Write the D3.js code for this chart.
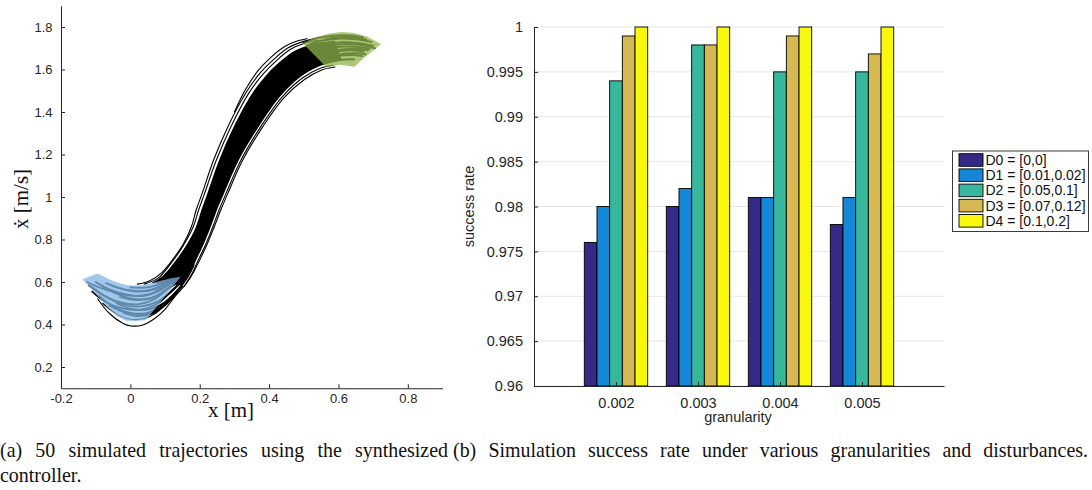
<!DOCTYPE html>
<html>
<head>
<meta charset="utf-8">
<script src="https://cdn.jsdelivr.net/npm/d3@7"></script>
<style>
  body { margin: 0; background: #fff; }
  svg { display: block; }
  .axis text { font-family: "Liberation Sans", Arial, Helvetica, sans-serif; fill: #262626; }
  .axis path, .axis line { stroke: #262626; }
  .serif { font-family: "Liberation Serif", "Times New Roman", "DejaVu Serif", serif; fill: #111; }
  .sans { font-family: "Liberation Sans", Arial, Helvetica, sans-serif; fill: #262626; }
</style>
</head>
<body>
<div id="figure"></div>
<script>
// ---------- (a) trajectories, values as [x, xdot] ----------
const posTicks = [-0.2, 0, 0.2, 0.4, 0.6, 0.8];
const posTickLabels = ["-0.2", "0", "0.2", "0.4", "0.6", "0.8"];
const velTicks = [0.2, 0.4, 0.6, 0.8, 1, 1.2, 1.4, 1.6, 1.8];
const velTickLabels = ["0.2", "0.4", "0.6", "0.8", "1", "1.2", "1.4", "1.6", "1.8"];

// initial set (blue) and goal set (green)
const startRegion = [
  [-0.094, 0.640], [-0.06, 0.612], [-0.03, 0.593], [0.0, 0.583], [0.03, 0.583],
  [0.06, 0.594], [0.09, 0.607], [0.115, 0.617], [0.145, 0.625],
  [0.045, 0.421], [0.015, 0.416], [-0.012, 0.418], [-0.04, 0.44], [-0.07, 0.49],
  [-0.1, 0.545], [-0.125, 0.59], [-0.139, 0.613]
];
const goalRegion = [
  [0.497, 1.723], [0.53, 1.75], [0.574, 1.77], [0.61, 1.776], [0.645, 1.772],
  [0.68, 1.757], [0.723, 1.72], [0.70, 1.69], [0.67, 1.65], [0.646, 1.613],
  [0.605, 1.622], [0.564, 1.613]
];

// dense core of the 50 trajectories
const bundleTop = [
  [0.06, 0.595], [0.095, 0.632], [0.13, 0.70], [0.162, 0.775], [0.188, 0.855],
  [0.205, 0.94], [0.222, 1.017], [0.256, 1.174], [0.298, 1.331], [0.35, 1.485],
  [0.39, 1.57], [0.43, 1.635], [0.47, 1.685], [0.51, 1.712], [0.55, 1.728], [0.59, 1.735]
];
const bundleBottom = [
  [0.15, 0.585], [0.172, 0.64], [0.19, 0.704], [0.212, 0.78], [0.232, 0.86],
  [0.25, 0.94], [0.27, 1.017], [0.313, 1.174], [0.37, 1.331], [0.43, 1.47],
  [0.49, 1.565], [0.54, 1.612], [0.58, 1.632], [0.61, 1.642]
];

// individual trajectories running along the edges of the bundle
const edgeLines = [
  [[0.04, 0.59], [0.08, 0.618], [0.118, 0.69], [0.152, 0.77], [0.18, 0.855], [0.197, 0.94],
   [0.214, 1.017], [0.248, 1.174], [0.29, 1.331], [0.342, 1.49], [0.382, 1.577], [0.422, 1.643],
   [0.462, 1.695], [0.50, 1.722], [0.54, 1.738]],
  [[0.02, 0.59], [0.055, 0.605], [0.09, 0.643], [0.122, 0.705], [0.153, 0.78], [0.176, 0.86],
   [0.19, 0.94], [0.207, 1.017], [0.24, 1.174], [0.283, 1.337], [0.335, 1.495], [0.375, 1.585],
   [0.415, 1.65], [0.455, 1.702], [0.495, 1.73], [0.525, 1.742]],
  [[0.30, 1.40], [0.33, 1.50], [0.367, 1.592], [0.405, 1.657], [0.445, 1.708], [0.485, 1.736], [0.51, 1.745]],
  [[0.155, 0.58], [0.178, 0.64], [0.196, 0.704], [0.218, 0.78], [0.238, 0.86], [0.256, 0.94],
   [0.276, 1.017], [0.319, 1.174], [0.376, 1.331], [0.436, 1.468], [0.496, 1.56], [0.546, 1.605], [0.585, 1.62]],
  [[-0.094, 0.52], [-0.061, 0.453], [-0.022, 0.406], [0.002, 0.393], [0.036, 0.398],
   [0.064, 0.421], [0.098, 0.468], [0.13, 0.535], [0.16, 0.59], [0.182, 0.645],
   [0.2, 0.704], [0.222, 0.78], [0.242, 0.86], [0.261, 0.94], [0.281, 1.017],
   [0.324, 1.174], [0.382, 1.331], [0.442, 1.465], [0.502, 1.553], [0.552, 1.598], [0.59, 1.612]],
  [[-0.08, 0.50], [-0.04, 0.45], [0.0, 0.425], [0.04, 0.428], [0.075, 0.455],
   [0.11, 0.51], [0.14, 0.565], [0.165, 0.62], [0.184, 0.68]]
];

// trajectories leaving the initial set
const startStrands = [
  [[-0.12, 0.585], [-0.08, 0.54], [-0.03, 0.505], [0.02, 0.495], [0.07, 0.52], [0.11, 0.57], [0.14, 0.6]],
  [[-0.10, 0.60], [-0.06, 0.565], [-0.01, 0.54], [0.04, 0.535], [0.085, 0.56], [0.12, 0.6]],
  [[-0.11, 0.555], [-0.07, 0.505], [-0.02, 0.475], [0.03, 0.47], [0.08, 0.50], [0.12, 0.56], [0.145, 0.6]],
  [[-0.05, 0.58], [0.0, 0.56], [0.05, 0.56], [0.09, 0.585], [0.12, 0.615]],
  [[-0.09, 0.535], [-0.05, 0.485], [0.0, 0.455], [0.05, 0.455], [0.09, 0.49], [0.13, 0.55], [0.15, 0.59]],
  [[-0.07, 0.595], [-0.03, 0.57], [0.02, 0.555], [0.07, 0.565], [0.11, 0.6]],
  [[-0.06, 0.49], [-0.02, 0.46], [0.03, 0.448], [0.08, 0.47], [0.12, 0.53], [0.15, 0.58]],
  [[-0.03, 0.53], [0.02, 0.515], [0.07, 0.53], [0.115, 0.58]],
  [[-0.125, 0.60], [-0.09, 0.575], [-0.04, 0.55], [0.01, 0.535], [0.06, 0.545], [0.10, 0.58], [0.13, 0.61]],
  [[-0.08, 0.58], [-0.04, 0.545], [0.01, 0.52], [0.06, 0.525], [0.10, 0.56], [0.135, 0.6]],
  [[-0.04, 0.50], [0.0, 0.475], [0.05, 0.47], [0.095, 0.5], [0.135, 0.56]],
  [[-0.02, 0.455], [0.02, 0.44], [0.06, 0.45], [0.1, 0.49], [0.14, 0.56]],
  [[0.0, 0.575], [0.05, 0.575], [0.1, 0.6], [0.13, 0.625]],
  [[-0.11, 0.575], [-0.07, 0.53], [-0.02, 0.495], [0.03, 0.485], [0.075, 0.505], [0.115, 0.55], [0.14, 0.59]]
];

// trajectories ending in the goal set
const goalStrands = [
  [[0.50, 1.725], [0.54, 1.748], [0.58, 1.758], [0.63, 1.76], [0.67, 1.752]],
  [[0.51, 1.712], [0.55, 1.735], [0.6, 1.745], [0.65, 1.742], [0.695, 1.73]],
  [[0.52, 1.695], [0.56, 1.718], [0.61, 1.728], [0.66, 1.724], [0.70, 1.712]],
  [[0.53, 1.678], [0.57, 1.70], [0.62, 1.708], [0.67, 1.704], [0.69, 1.698]],
  [[0.54, 1.66], [0.58, 1.68], [0.63, 1.69], [0.672, 1.685]],
  [[0.55, 1.645], [0.59, 1.662], [0.64, 1.668], [0.668, 1.664]],
  [[0.56, 1.632], [0.60, 1.645], [0.645, 1.648]],
  [[0.56, 1.74], [0.6, 1.752], [0.64, 1.752], [0.68, 1.74]],
  [[0.58, 1.715], [0.63, 1.72], [0.68, 1.712], [0.705, 1.70]],
  [[0.58, 1.66], [0.62, 1.675], [0.66, 1.676], [0.678, 1.672]],
  [[0.59, 1.69], [0.64, 1.698], [0.685, 1.692]]
];

// ---------- (b) success rate ----------
const granularity = [0.002, 0.003, 0.004, 0.005];
const granLabels = ["0.002", "0.003", "0.004", "0.005"];
const disturbances = ["D0 = [0,0]", "D1 = [0.01,0.02]", "D2 = [0.05,0.1]", "D3 = [0.07,0.12]", "D4 = [0.1,0.2]"];
const distColors = ["#352a87", "#1587d7", "#37b89d", "#d7b954", "#f8f80f"];
const rateD0 = [0.976, 0.980, 0.981, 0.978];
const rateD1 = [0.980, 0.982, 0.981, 0.981];
const rateD2 = [0.994, 0.998, 0.995, 0.995];
const rateD3 = [0.999, 0.998, 0.999, 0.997];
const rateD4 = [1.000, 1.000, 1.000, 1.000];
const rateTicks = [0.96, 0.965, 0.97, 0.975, 0.98, 0.985, 0.99, 0.995, 1];
const rateTickLabels = ["0.96", "0.965", "0.97", "0.975", "0.98", "0.985", "0.99", "0.995", "1"];

const WIDTH = 1092, HEIGHT = 490,
  CAPTION_SQUEEZE = 0.95;

var svg = d3.select("#figure").append("svg")
  .attr("width", WIDTH)
  .attr("height", HEIGHT);

// ===== left panel =====
var xPos = d3.scaleLinear().domain([-0.2, 0.9]).range([61, 442.5]);
var yVel = d3.scaleLinear().domain([0.1, 1.9]).range([388.25, 5.75]);

var traj = d3.line()
  .x(function(d) { return xPos(d[0]); })
  .y(function(d) { return yVel(d[1]); })
  .curve(d3.curveCatmullRom.alpha(0.5));

var region = d3.line()
  .x(function(d) { return xPos(d[0]); })
  .y(function(d) { return yVel(d[1]); })
  .curve(d3.curveLinearClosed);

var left = svg.append("g").attr("id", "trajectories");

// core of the bundle as a filled band
var bandPath = traj(bundleTop) + "L" + traj(bundleBottom.slice().reverse()).slice(1) + "Z";
left.append("path").attr("d", bandPath).attr("fill", "#000");

function drawLines(list, width) {
  list.forEach(function(t) {
    left.append("path")
      .attr("d", traj(t))
      .attr("fill", "none")
      .attr("stroke", "#000")
      .attr("stroke-width", width)
      .attr("stroke-linecap", "round");
  });
}
drawLines(edgeLines, 1.1);
drawLines(startStrands, 1.8);
drawLines(goalStrands, 2);

left.append("path").attr("d", region(startRegion))
  .attr("fill", "#80b6e4").attr("fill-opacity", 0.75);
left.append("path").attr("d", region(goalRegion))
  .attr("fill", "#8eb64b").attr("fill-opacity", 0.75);

svg.append("g").attr("class", "axis")
  .attr("transform", "translate(0," + yVel(0.1) + ")")
  .call(d3.axisBottom(xPos).tickValues(posTicks)
    .tickFormat(function(d, i) { return posTickLabels[i]; })
    .tickSizeInner(-4).tickSizeOuter(0).tickPadding(6));
svg.append("g").attr("class", "axis")
  .attr("transform", "translate(" + xPos(-0.2) + ",0)")
  .call(d3.axisLeft(yVel).tickValues(velTicks)
    .tickFormat(function(d, i) { return velTickLabels[i]; })
    .tickSizeInner(-4).tickSizeOuter(0).tickPadding(8.5));
svg.selectAll(".axis text").style("font-size", "13px");

svg.append("text").attr("class", "serif")
  .attr("x", 231).attr("y", 417)
  .attr("text-anchor", "middle")
  .style("font-size", "21px")
  .text("x [m]");
svg.append("text").attr("class", "serif")
  .attr("transform", "translate(28,199) rotate(-90)")
  .attr("text-anchor", "middle")
  .style("font-size", "21px")
  .text("ẋ [m/s]");

// ===== right panel =====
var xGran = d3.scaleLinear().domain([0.001, 0.006]).range([534, 944]);
var yRate = d3.scaleLinear().domain([0.96, 1]).range([386, 27]);
var inner = d3.scaleBand().domain(disturbances).range([-31.7, 31.7]);
var rates = [rateD0, rateD1, rateD2, rateD3, rateD4];

var right = svg.append("g").attr("id", "bars");

right.selectAll(".grid")
  .data(rateTicks)
  .enter()
  .append("line")
  .attr("class", "grid")
  .attr("x1", xGran(0.001)).attr("x2", xGran(0.006))
  .attr("y1", function(d) { return yRate(d); })
  .attr("y2", function(d) { return yRate(d); })
  .attr("stroke", "#e6e6e6").attr("stroke-width", 1);

disturbances.forEach(function(name, s) {
  right.selectAll(".bar-" + s)
    .data(rates[s])
    .enter()
    .append("rect")
    .attr("class", "bar-" + s)
    .attr("x", function(d, i) { return xGran(granularity[i]) + inner(name); })
    .attr("width", inner.bandwidth())
    .attr("y", function(d) { return yRate(d); })
    .attr("height", function(d) { return yRate(0.96) - yRate(d); })
    .attr("fill", distColors[s])
    .attr("stroke", "#000")
    .attr("stroke-width", 0.9);
});

svg.append("g").attr("class", "axis rate")
  .attr("transform", "translate(0," + yRate(0.96) + ")")
  .call(d3.axisBottom(xGran).tickValues(granularity)
    .tickFormat(function(d, i) { return granLabels[i]; })
    .tickSizeInner(-4).tickSizeOuter(0).tickPadding(12));
svg.append("g").attr("class", "axis rate")
  .attr("transform", "translate(" + xGran(0.001) + ",0)")
  .call(d3.axisLeft(yRate).tickValues(rateTicks)
    .tickFormat(function(d, i) { return rateTickLabels[i]; })
    .tickSizeInner(-4).tickSizeOuter(0).tickPadding(11));
svg.selectAll(".rate text").style("font-size", "14.5px");

svg.append("text").attr("class", "sans")
  .attr("x", 738).attr("y", 422)
  .attr("text-anchor", "middle")
  .style("font-size", "14.5px")
  .text("granularity");
svg.append("text").attr("class", "sans")
  .attr("transform", "translate(474,206.5) rotate(-90)")
  .attr("text-anchor", "middle")
  .style("font-size", "14.5px")
  .text("success rate");

// legend
var legend = svg.append("g").attr("id", "legend");
legend.append("rect")
  .attr("x", 952.5).attr("y", 151).attr("width", 136).attr("height", 80.5)
  .attr("fill", "#fff").attr("stroke", "#262626").attr("stroke-width", 0.9);
var item = legend.selectAll(".item")
  .data(disturbances)
  .enter()
  .append("g")
  .attr("class", "item")
  .attr("transform", function(d, i) { return "translate(0," + (160 + i * 15.2) + ")"; });
item.append("rect")
  .attr("x", 959).attr("y", -6.3).attr("width", 24).attr("height", 12.6)
  .attr("fill", function(d, i) { return distColors[i]; })
  .attr("stroke", "#000").attr("stroke-width", 0.9);
item.append("text").attr("class", "sans")
  .attr("x", 985.5).attr("dy", "0.36em")
  .style("font-size", "14px")
  .style("fill", "#111")
  .text(function(d) { return d; });

// captions: justified by widening only the word gaps
function caption(x, y, width, str) {
  var t = svg.append("text").attr("class", "serif")
    .attr("transform", "scale(" + CAPTION_SQUEEZE + ",1)")
    .attr("x", x / CAPTION_SQUEEZE).attr("y", y)
    .style("font-size", "21px")
    .text(str);
  if (width) {
    var natural = t.node().getComputedTextLength();
    var gaps = str.split(" ").length - 1;
    var extra = (width / CAPTION_SQUEEZE - natural) / gaps;
    t.style("word-spacing", extra + "px");
  }
}
caption(0, 457, 448, "(a) 50 simulated trajectories using the synthesized");
caption(0, 482, 0, "controller.");
caption(453, 457, 635, "(b) Simulation success rate under various granularities and disturbances.");
</script>
</body>
</html>
